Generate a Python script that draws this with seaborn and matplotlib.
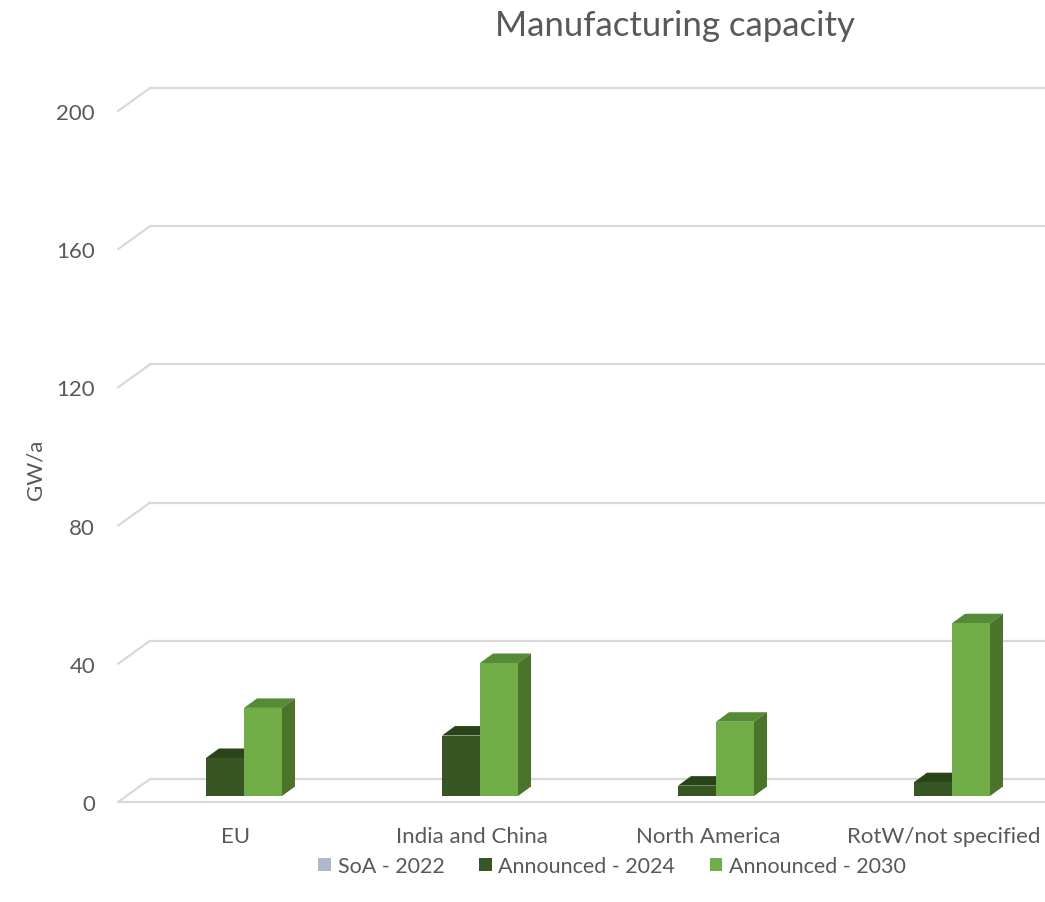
import numpy as np
import pandas as pd
import matplotlib
matplotlib.use("Agg")
import matplotlib.pyplot as plt
import matplotlib.transforms as mtransforms
from matplotlib.patches import Polygon, Patch
import seaborn as sns

# ---- data ----
regions = ["EU", "India and China", "North America", "RotW/not specified"]
series = ["SoA - 2022", "Announced - 2024", "Announced - 2030"]
soa_2022 = [0, 0, 0, 0]
announced_2024 = [11, 17.5, 3, 4]
announced_2030 = [25.5, 38.5, 21.5, 50]
y_ticks = [0, 40, 80, 120, 160, 200]

colors = {"SoA - 2022": "#ADB9CA", "Announced - 2024": "#375623", "Announced - 2030": "#70AD47"}
top_colors = {"Announced - 2024": "#2A4419", "Announced - 2030": "#558A36"}
side_colors = {"Announced - 2024": "#2E4A1D", "Announced - 2030": "#4A7429"}

df = pd.DataFrame({
    "region": regions * 2,
    "series": ["Announced - 2024"] * 4 + ["Announced - 2030"] * 4,
    "value": announced_2024 + announced_2030,
})

sns.set_theme(style="white")
plt.rcParams["font.family"] = ["Lato", "DejaVu Sans"]

W, H = 1045, 903
fig = plt.figure(figsize=(W / 100, H / 100), dpi=100)
ax = fig.add_axes([118 / W, 100 / H, 944 / W, 691 / H])

sns.barplot(data=df, x="region", y="value", hue="series",
            hue_order=["Announced - 2024", "Announced - 2030"],
            palette=colors, width=0.322, ax=ax, legend=False,
            saturation=1, linewidth=0, order=regions)
ax.set_xlim(-0.5, 3.5)
ax.set_ylim(0, 200)

# depth geometry (pixels)
WALL_DX, WALL_DY = 32, 23     # front plane -> back wall
BAR_DX, BAR_DY = 8, 6         # front plane -> bar front face
DEP_DX, DEP_DY = 13, 9.5      # bar depth

grid_col = "#D9D9D9"
fig.canvas.draw()
inv = ax.transData.inverted()

def shift(pt, dx, dy):
    p = ax.transData.transform(pt) + np.array([dx, dy])
    return inv.transform(p)

# gridlines: back wall + left wall diagonals
for v in y_ticks:
    b = shift((-0.5, v), WALL_DX, WALL_DY)
    ax.plot([-0.5, b[0]], [v, b[1]], color=grid_col, lw=1.6, clip_on=False, zorder=0.5)
    ax.plot([b[0], 3.6], [b[1], b[1]], color=grid_col, lw=1.6, clip_on=False, zorder=0.5)
# floor front edge
ax.plot([-0.5, 3.6], [0, 0], color=grid_col, lw=1.6, clip_on=False, zorder=0.5)

# 3D faces for bars
bar_off = mtransforms.ScaledTranslation(BAR_DX / 100, BAR_DY / 100, fig.dpi_scale_trans)
hue_names = ["Announced - 2024"] * 4 + ["Announced - 2030"] * 4
for patch, name in zip(ax.patches, hue_names):
    z = 2 if name == "Announced - 2024" else 3
    patch.set_transform(ax.transData + bar_off)
    patch.set_zorder(z + 0.2)
    x0, y0 = patch.get_x(), patch.get_y()
    w, h = patch.get_width(), patch.get_height()
    fl = shift((x0, y0 + h), BAR_DX, BAR_DY)
    fr = shift((x0 + w, y0 + h), BAR_DX, BAR_DY)
    br = shift((x0 + w, y0), BAR_DX, BAR_DY)
    tl_b = shift(tuple(fl), DEP_DX, DEP_DY)
    tr_b = shift(tuple(fr), DEP_DX, DEP_DY)
    br_b = shift(tuple(br), DEP_DX, DEP_DY)
    top = Polygon([fl, fr, tr_b, tl_b], closed=True, facecolor=top_colors[name],
                  edgecolor="none", zorder=z + 0.1, clip_on=False)
    side = Polygon([fr, br, br_b, tr_b], closed=True, facecolor=side_colors[name],
                   edgecolor="none", zorder=z + 0.1, clip_on=False)
    ax.add_patch(top)
    ax.add_patch(side)

for s in ax.spines.values():
    s.set_visible(False)
ax.set_yticks(y_ticks)
ax.set_yticklabels([str(t) for t in y_ticks])
ax.tick_params(axis="y", length=0, pad=16.5, labelsize=16, labelcolor="#595959")
ax.tick_params(axis="x", length=0, pad=17, labelsize=16, labelcolor="#595959")
ax.set_xlabel("")
ax.set_ylabel("GW/a", fontsize=16, color="#595959")
ax.yaxis.set_label_coords(-0.0763, 0.482)
ax.grid(False)

fig.text(675 / W, 1 - 26 / H, "Manufacturing capacity", ha="center", va="center",
         fontsize=25, color="#595959")

handles = [Patch(facecolor=colors[s], edgecolor="none", label=s) for s in series]
fig.legend(handles=handles, loc="center", bbox_to_anchor=(612 / W, 1 - 867 / H),
           ncol=3, frameon=False, fontsize=15.5, handlelength=0.6, handleheight=0.6,
           handletextpad=0.3, columnspacing=1.6, labelcolor="#595959")

fig.savefig("out.png", dpi=100)
